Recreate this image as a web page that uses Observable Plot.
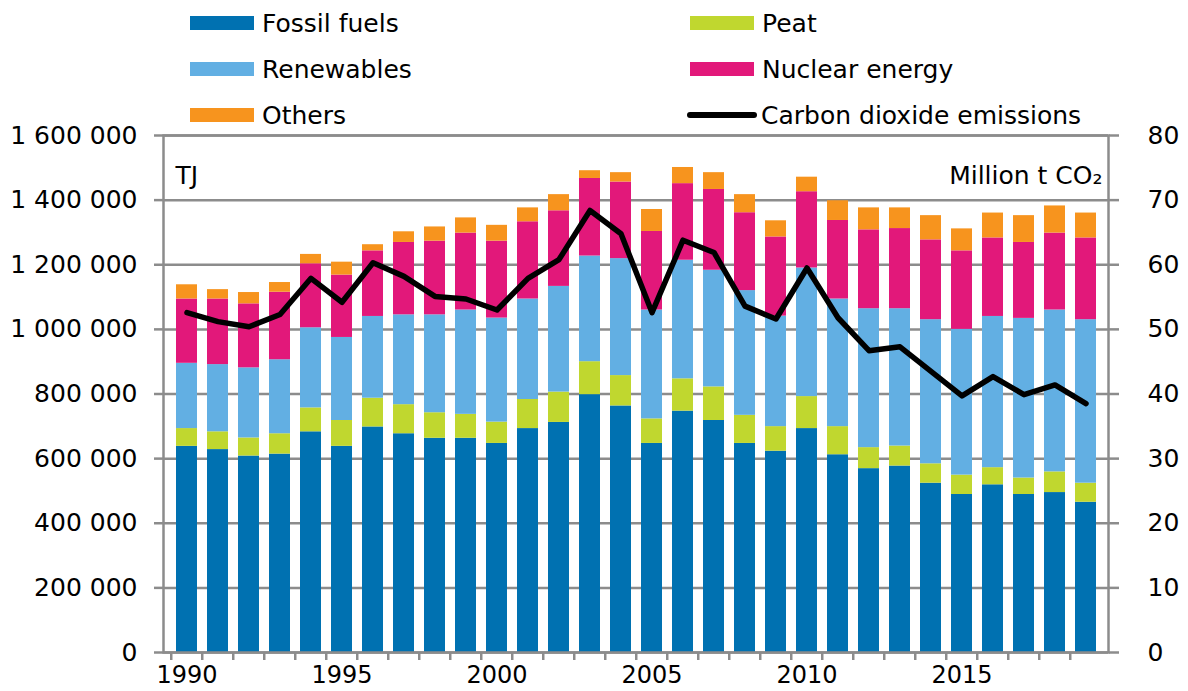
<!DOCTYPE html>
<html>
<head>
<meta charset="utf-8">
<script src="https://cdn.jsdelivr.net/npm/d3@7"></script>
<script src="https://cdn.jsdelivr.net/npm/@observablehq/plot@0.6"></script>
<style>
  body { margin: 0; background: #fff; font-family: "DejaVu Sans", sans-serif; }
  #wrap { position: relative; width: 1188px; height: 691px; overflow: hidden; }
  #legend { position: absolute; left: 0; top: 0; width: 1188px; height: 130px; z-index: 2; }
  .leg { position: absolute; display: flex; align-items: center; height: 30px; font-size: 25px; color: #000; white-space: nowrap; }
  .sw { width: 64px; height: 14px; margin-right: 8px; }
  .ln { width: 70px; height: 6px; border-radius: 3px; background: #000; margin-right: 4px; }
</style>
</head>
<body>
<div id="wrap"><div id="legend"></div><div id="chart"></div></div>
<script>
// ---- data (TJ per source, Mt CO2) ----
const years = [1990,1991,1992,1993,1994,1995,1996,1997,1998,1999,
               2000,2001,2002,2003,2004,2005,2006,2007,2008,2009,
               2010,2011,2012,2013,2014,2015,2016,2017,2018,2019];
const fossil = [638000,628000,608000,614000,683000,638000,698000,677000,663000,663000,
                647000,693000,712000,798000,763000,647000,747000,718000,647000,623000,
                693000,612000,569000,577000,524000,489000,519000,489000,495000,465000];
const peat = [55000,55000,56000,63000,74000,80000,89000,90000,79000,74000,
              66000,90000,94000,102000,94000,76000,100000,104000,87000,76000,
              99000,87000,65000,62000,60000,60000,53000,51000,64000,59000];
const renewables = [202000,208000,217000,229000,248000,257000,253000,278000,303000,323000,
                    322000,311000,327000,327000,362000,337000,367000,361000,386000,342000,
                    398000,395000,430000,425000,446000,451000,468000,494000,501000,506000];
const nuclear = [199000,203000,198000,209000,198000,193000,203000,224000,228000,238000,
                 238000,239000,234000,240000,237000,243000,237000,250000,241000,245000,
                 236000,243000,244000,248000,247000,243000,243000,235000,238000,253000];
const others = [44000,29000,35000,30000,29000,40000,19000,33000,44000,47000,
                49000,43000,50000,24000,29000,68000,50000,52000,56000,50000,
                45000,61000,68000,64000,75000,68000,77000,83000,84000,77000];
const co2 = [52.6,51.2,50.4,52.3,57.9,54.2,60.3,58.2,55.1,54.7,
             53.0,57.9,60.8,68.4,64.8,52.6,63.8,61.9,53.6,51.6,
             59.5,51.8,46.7,47.3,43.5,39.7,42.7,39.9,41.4,38.5];

const seriesNames = ["Fossil fuels","Peat","Renewables","Nuclear energy","Others"];
const seriesValues = [fossil, peat, renewables, nuclear, others];
const seriesColors = ["#0071b1","#c0d72f","#62afe3","#e2187a","#f7941e"];
const lineName = "Carbon dioxide emissions";

const tjTicks = [0,200000,400000,600000,800000,1000000,1200000,1400000,1600000];
const co2Ticks = [0,10,20,30,40,50,60,70,80];
const labelYears = [1990,1995,2000,2005,2010,2015];

// ---- derived tables ----
const k = 1600000 / 80; // right-axis mapping
const long = [];
seriesNames.forEach((name, i) => {
  years.forEach((y, j) => long.push({year: y, source: name, value: seriesValues[i][j]}));
});
const co2Rows = years.map((y, j) => ({year: y, co2: co2[j]}));

// ---- legend ----
const legendItems = [
  {name: "Fossil fuels", col: 0, row: 0},
  {name: "Renewables", col: 0, row: 1},
  {name: "Others", col: 0, row: 2},
  {name: "Peat", col: 1, row: 0},
  {name: "Nuclear energy", col: 1, row: 1},
  {name: lineName, col: 1, row: 2, line: true}
];
const legend = document.getElementById("legend");
const colX = [190, 690], rowY = [8, 54, 100];
for (const it of legendItems) {
  const d = document.createElement("div");
  d.className = "leg";
  d.style.left = (it.line ? colX[it.col] - 3 : colX[it.col]) + "px";
  d.style.top = rowY[it.row] + "px";
  const sw = document.createElement("div");
  if (it.line) { sw.className = "ln"; }
  else { sw.className = "sw"; sw.style.background = seriesColors[seriesNames.indexOf(it.name)]; }
  d.appendChild(sw);
  const t = document.createElement("span");
  t.textContent = it.name;
  d.appendChild(t);
  legend.appendChild(d);
}

// ---- chart ----
const W = 1188, H = 691, mL = 163, mR = 80, mT = 135, mB = 39;
const step = (W - mL - mR) / years.length;
const fmt = d => d3.format(",")(d).replace(/,/g, " ");
const grid = "#8c8c8c";

const chart = Plot.plot({
  width: W, height: H,
  marginLeft: mL, marginRight: mR, marginTop: mT, marginBottom: mB,
  style: {fontFamily: "DejaVu Sans, sans-serif", fontSize: "25px", background: "transparent", overflow: "visible"},
  x: {type: "band", domain: years, paddingInner: 0.335, paddingOuter: 0.17, align: 0.5},
  y: {domain: [0, 1600000]},
  color: {domain: seriesNames, range: seriesColors},
  marks: [
    Plot.ruleY(tjTicks, {stroke: grid, strokeWidth: 2.5}),
    Plot.barY(long, {x: "year", y: "value", z: "source", fill: "source", order: seriesNames}),
    Plot.frame({stroke: grid, strokeWidth: 2.5}),
    Plot.axisY(tjTicks, {anchor: "left", tickSize: 9, tickPadding: 17, tickFormat: fmt,
      stroke: grid, strokeWidth: 2.5, fill: "#000", fontSize: 25, label: null}),
    Plot.axisY(co2Ticks.map(v => v * k), {anchor: "right", tickSize: 10, tickPadding: 29,
      tickFormat: d => String(Math.round(d / k)), stroke: grid, strokeWidth: 2.5, fill: "#000", fontSize: 25, label: null}),
    Plot.axisX(years, {anchor: "bottom", tickSize: 8, dx: -step / 2, tickFormat: () => "",
      stroke: grid, strokeWidth: 2.5, label: null}),
    Plot.axisX(labelYears, {anchor: "bottom", tickSize: 0, tickPadding: 13, tickFormat: d => String(d),
      fill: "#000", fontSize: 24, label: null}),
    Plot.lineY(co2Rows, {x: "year", y: d => d.co2 * k, stroke: "#000", strokeWidth: 5.5,
      strokeLinejoin: "round", strokeLinecap: "round"}),
    Plot.text(["TJ"], {frameAnchor: "top-left", dx: 12, dy: 31, text: d => d, fontSize: 25, fill: "#000", textAnchor: "start"}),
    Plot.text(["Million t CO\u2082"], {frameAnchor: "top-right", dx: -6, dy: 31, text: d => d, fontSize: 25, fill: "#000", textAnchor: "end"})
  ]
});
document.getElementById("chart").appendChild(chart);
</script>
</body>
</html>
